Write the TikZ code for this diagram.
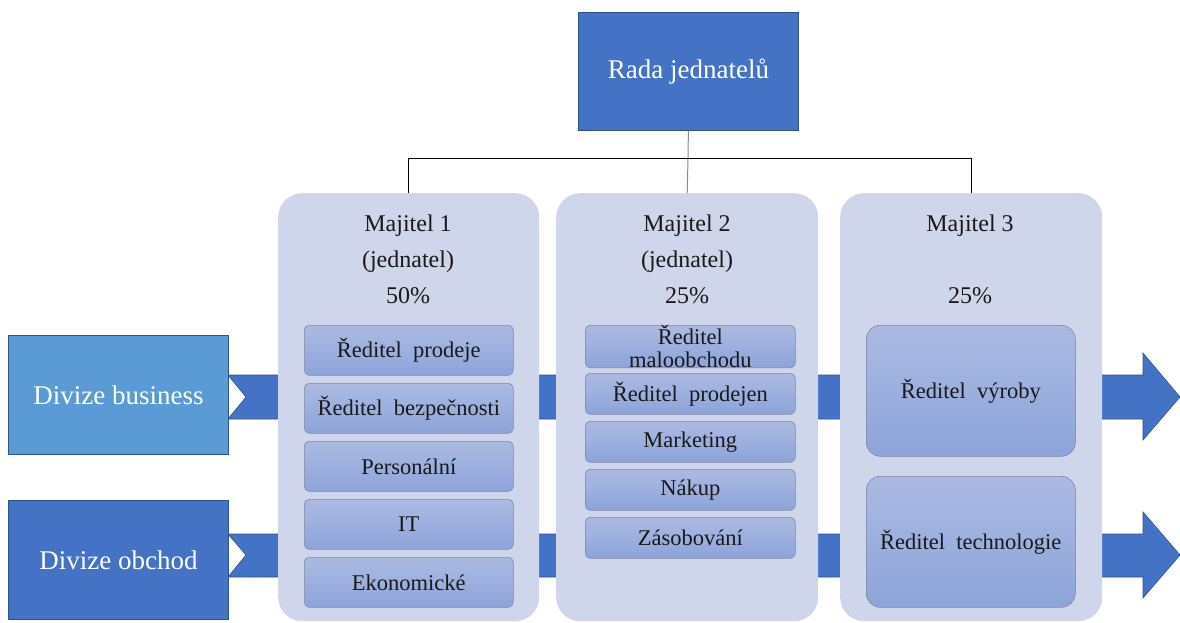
\documentclass[tikz,border=0pt]{standalone}
\usepackage{fontspec}
\setmainfont{Liberation Serif}
\begin{document}
\begin{tikzpicture}[x=1pt,y=-1pt,
  blueA/.style={fill=bluedark,draw=blueline,line width=0.8pt,text=white},
  panel/.style={fill=panelfill,draw=none,rounded corners=24pt,anchor=north west,inner sep=0pt},
  role/.style={draw=roleline,line width=0.6pt,rounded corners=5pt,top color=roletop,bottom color=rolebot,
    anchor=north west,inner sep=0pt,align=center,font=\fontsize{22.5}{22.5}\selectfont,text=black!90},
  head/.style={font=\fontsize{24}{24}\selectfont,text=black!90},
  band/.style={fill=bluedark,draw=blueline,line width=0.6pt},
  link/.style={line width=1pt}]
\definecolor{bluedark}{HTML}{4472C4}
\definecolor{bluelight}{HTML}{5B9BD5}
\definecolor{blueline}{HTML}{2F528F}
\definecolor{panelfill}{HTML}{CFD5EA}
\definecolor{roletop}{HTML}{ABBAE2}
\definecolor{rolebot}{HTML}{8DA4DA}
\definecolor{roleline}{HTML}{7D8AA3}
\useasboundingbox (0,0) rectangle (1180,623);

% flow bands behind the owner panels
\draw[band] (228,375) -- (1143,375) -- (1143,353) -- (1180,397) -- (1143,440) -- (1143,419) -- (228,419) -- (246,397) -- cycle;
\draw[band] (228,534) -- (1143,534) -- (1143,512) -- (1180,555) -- (1143,598) -- (1143,577) -- (228,577) -- (246,555) -- cycle;

% division boxes
\node[blueA,fill=bluelight,anchor=north west,minimum width=220pt,minimum height=119pt,inner sep=0pt,
  font=\fontsize{27}{27}\selectfont] (biz) at (8,335) {Divize business};
\node[blueA,anchor=north west,minimum width=220pt,minimum height=119pt,inner sep=0pt,
  font=\fontsize{27}{27}\selectfont] (obch) at (8,500) {Divize obchod};

% board
\node[blueA,anchor=north west,minimum width=220pt,minimum height=118pt,inner sep=0pt,
  font=\fontsize{27}{27}\selectfont] (rada) at (578,12) {Rada jednatelů};

% owner panels
\node[panel,minimum width=261pt,minimum height=428pt] (p1) at (278,193) {};
\node[panel,minimum width=262pt,minimum height=428pt] (p2) at (556,193) {};
\node[panel,minimum width=262pt,minimum height=428pt] (p3) at (840,193) {};

% connectors
\coordinate (bus) at (688,158);
\draw[link,draw=black!45] (rada.south) -- (bus) -- (p2.north);
\draw[link] (p1.north) |- (bus);
\draw[link] (p3.north) |- (bus);

% panel headings
\node[head] (h1a) at (408,226) {Majitel 1};
\node[head] (h1b) at (408,262) {(jednatel)};
\node[head] (h1c) at (408,296) {50\%};
\node[head] (h2a) at (687,226) {Majitel 2};
\node[head] (h2b) at (687,262) {(jednatel)};
\node[head] (h2c) at (687,296) {25\%};
\node[head] (h3a) at (970,226) {Majitel 3};
\node[head] (h3c) at (970,296) {25\%};

% Majitel 1 roles
\node[role,minimum width=209pt,minimum height=50pt] (r11) at (304,325) {Ředitel\ \ prodeje};
\node[role,minimum width=209pt,minimum height=50pt] (r12) at (304,383) {Ředitel\ \ bezpečnosti};
\node[role,minimum width=209pt,minimum height=50pt] (r13) at (304,441) {Personální};
\node[role,minimum width=209pt,minimum height=50pt] (r14) at (304,499) {IT};
\node[role,minimum width=209pt,minimum height=50pt] (r15) at (304,557) {Ekonomické};

% Majitel 2 roles
\node[role,minimum width=210pt,minimum height=41pt,font=\fontsize{22.5}{23}\selectfont] (r21) at (585,325) {Ředitel\\maloobchodu};
\node[role,minimum width=210pt,minimum height=41pt] (r22) at (585,373) {Ředitel\ \ prodejen};
\node[role,minimum width=210pt,minimum height=41pt] (r23) at (585,421) {Marketing};
\node[role,minimum width=210pt,minimum height=41pt] (r24) at (585,469) {Nákup};
\node[role,minimum width=210pt,minimum height=41pt] (r25) at (585,517) {Zásobování};

% Majitel 3 roles
\node[role,rounded corners=14pt,minimum width=209pt,minimum height=131pt] (r31) at (866,325) {Ředitel\ \ výroby};
\node[role,rounded corners=14pt,minimum width=209pt,minimum height=131pt] (r32) at (866,476) {Ředitel\ \ technologie};
\end{tikzpicture}
\end{document}
